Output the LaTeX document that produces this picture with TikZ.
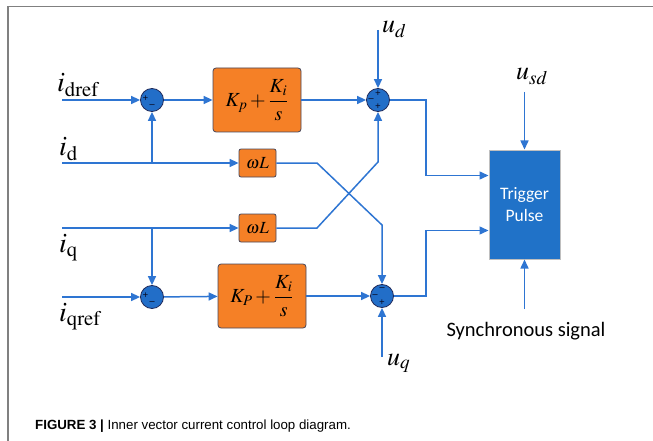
\documentclass[tikz,border=0pt]{standalone}
\usepackage{amsmath}
\usepackage{mathptmx}
\usepackage{fontspec}
\setmainfont{Liberation Serif}
\newfontfamily\calib{Carlito}
\newfontfamily\arialf{Liberation Sans}
\usetikzlibrary{arrows.meta}
\definecolor{lineblue}{RGB}{46,117,210}
\definecolor{sumblue}{RGB}{34,110,200}
\definecolor{navy}{RGB}{32,42,90}
\definecolor{signcol}{RGB}{10,12,35}
\definecolor{piorange}{RGB}{245,128,38}
\definecolor{boxgrey}{RGB}{70,70,90}
\definecolor{trigblue}{RGB}{32,114,200}
\tikzset{arr/.style={draw=lineblue,line width=1.5pt,-{Triangle[length=9pt,width=8pt]}},
	sum/.style={circle,draw=navy,fill=sumblue,line width=0.8pt,minimum size=23pt,inner sep=0pt},
	sgn/.style={text=signcol,font=\bfseries\fontsize{10}{10}\selectfont,inner sep=0pt},
	pibox/.style={draw=boxgrey,fill=piorange,rounded corners=3pt,line width=0.8pt,
		minimum width=88pt,minimum height=64pt,font=\fontsize{20}{22}\selectfont},
	wlbox/.style={draw=boxgrey,fill=piorange,rounded corners=2pt,line width=0.8pt,
		minimum width=37pt,minimum height=28pt,font=\fontsize{17}{18}\selectfont},
	trigbox/.style={draw=gray!50,fill=trigblue,line width=1pt,minimum width=71pt,
		minimum height=109pt,text=white,align=center,font=\calib\fontsize{17.5}{22}\selectfont},
	curlab/.style={anchor=base west,inner sep=0pt,font=\fontsize{28}{30}\selectfont},
	ulab/.style={anchor=base west,inner sep=0pt,font=\fontsize{26}{28}\selectfont}}
\begin{document}
\begin{tikzpicture}[x=1pt,y=-1pt]
\useasboundingbox (0,0) rectangle (653,441);
\draw[gray,line width=1.5pt] (8,441) -- (8,6.5) -- (653,6.5);
\node[sum] (s1) at (152,100) {};
\node[sum] (s2) at (152,297) {};
\node[sum] (s3) at (378,100) {};
\node[sum] (s4) at (382,296) {};
\node[sgn] at ([xshift=-6.5pt,yshift=1pt]s1.center) {+};
\node[sgn] at ([yshift=-6pt]s1.center) {--};
\node[sgn] at ([xshift=-6.5pt,yshift=1pt]s2.center) {+};
\node[sgn] at ([yshift=-6pt]s2.center) {--};
\node[sgn] at ([yshift=6pt]s3.center) {+};
\node[sgn] at ([xshift=-7pt]s3.center) {--};
\node[sgn] at ([yshift=-7pt]s3.center) {+};
\node[sgn] at ([yshift=7pt]s4.center) {--};
\node[sgn] at ([xshift=-7pt]s4.center) {--};
\node[sgn] at ([yshift=-7pt]s4.center) {+};
\node[pibox] (pi1) at (257,100) {$K_p+\dfrac{K_i}{s}$};
\node[pibox] (pi2) at (262,296) {$K_P+\dfrac{K_i}{s}$};
\node[wlbox] (wl1) at (257.5,163) {$\omega L$};
\node[wlbox] (wl2) at (257.5,228) {$\omega L$};
\node[trigbox] (trig) at (524.5,204.5) {Trigger\\Pulse};
\node[curlab] (ldref) at (57,92) {$i_{\mathrm{dref}}$};
\node[curlab] (ld) at (59,156) {$i_{\mathrm{d}}$};
\node[curlab] (lq) at (59,252) {$i_{\mathrm{q}}$};
\node[curlab] (lqref) at (59,321) {$i_{\mathrm{qref}}$};
\node[ulab] (lud) at (382,33) {$u_d$};
\node[ulab] (lusd) at (516,80) {$u_{sd}$};
\node[ulab] (luq) at (387,365) {$u_q$};
\node[font=\calib\fontsize{20.5}{22}\selectfont] (sync) at (526,331) {Synchronous signal};
\node[anchor=base west,inner sep=0pt,font=\arialf\fontsize{13.3}{15}\selectfont] (cap) at (35,429)
	{\textbf{FIGURE 3 |} Inner vector current control loop diagram.};
\coordinate (idrefin) at (62,100);
\coordinate (idin) at (62,163);
\coordinate (iqin) at (62,228);
\coordinate (iqrefin) at (62,297);
\coordinate (udin) at (378,30);
\coordinate (uqin) at (382,357);
\coordinate (usdin) at (524.5,92);
\coordinate (syncin) at (524.5,309);
\coordinate (k1) at (317,163);
\coordinate (k2) at (382,225);
\coordinate (k3) at (317,228);
\coordinate (k4) at (378,162);
\coordinate (j3) at (426,100);
\coordinate (j4) at (426,296);
\draw[arr] (idrefin) -- (s1);
\draw[arr] (s1) -- (pi1);
\draw[arr] (pi1) -- (s3);
\draw[arr] (idin) -- (wl1);
\draw[arr] (s1 |- idin) -- (s1);
\draw[arr] (iqin) -- (wl2);
\draw[arr] (s2 |- iqin) -- (s2);
\draw[arr] (iqrefin) -- (s2);
\draw[arr] (s2) -- (pi2);
\draw[arr] (pi2) -- (s4);
\draw[arr] (wl1) -- (k1) -- (k2) -- (s4);
\draw[arr] (wl2) -- (k3) -- (k4) -- (s3);
\draw[arr] (udin) -- (s3);
\draw[arr] (uqin) -- (s4);
\draw[arr] (s3) -- (j3) |- ([yshift=29pt]trig.west);
\draw[arr] (s4) -- (j4) |- ([yshift=-26pt]trig.west);
\draw[arr] (usdin) -- (trig);
\draw[arr] (syncin) -- (trig);
\end{tikzpicture}
\end{document}
